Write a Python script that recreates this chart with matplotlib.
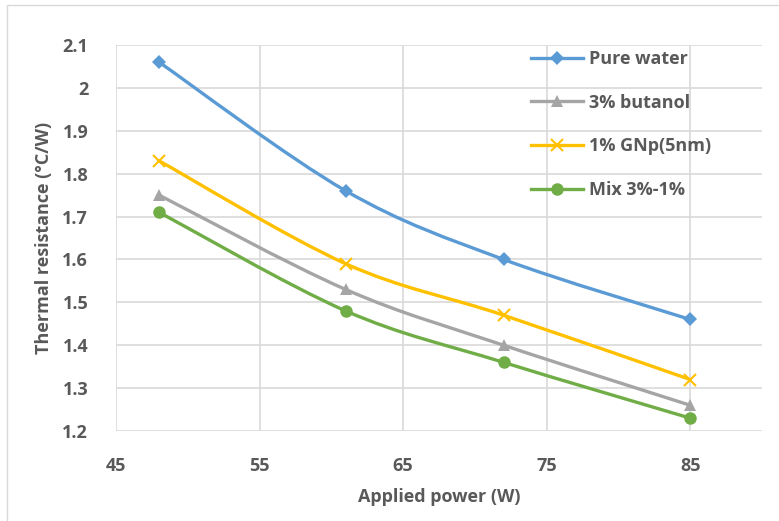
import numpy as np
import matplotlib.pyplot as plt
from matplotlib.path import Path
from matplotlib.patches import PathPatch, Rectangle
from matplotlib.lines import Line2D

power = [48, 61, 72, 85]
pure_water = [2.06, 1.76, 1.60, 1.46]
butanol = [1.75, 1.53, 1.40, 1.26]
gnp = [1.83, 1.59, 1.47, 1.32]
mix = [1.71, 1.48, 1.36, 1.23]

labels = ["Pure water", "3% butanol", "1% GNp(5nm)", "Mix 3%-1%"]
colors = ["#5B9BD5", "#A5A5A5", "#FFC000", "#70AD47"]
markers = ["D", "^", "x", "o"]
msizes = [7, 8, 9, 9]

text_col = "#595959"
grid_col = "#D9D9D9"
plt.rcParams['font.family'] = ['Open Sans', 'DejaVu Sans']
plt.rcParams['font.weight'] = 'bold'


def smooth_path(x, y):
    # Excel-like smoothed line: Catmull-Rom segments as cubic Bezier
    pts = np.column_stack([x, y]).astype(float)
    verts = [pts[0]]
    codes = [Path.MOVETO]
    n = len(pts)
    for i in range(n - 1):
        p0 = pts[i - 1] if i > 0 else pts[i]
        p1 = pts[i]
        p2 = pts[i + 1]
        p3 = pts[i + 2] if i + 2 < n else pts[i + 1]
        c1 = p1 + (p2 - p0) / 6.0
        c2 = p2 - (p3 - p1) / 6.0
        verts += [c1, c2, p2]
        codes += [Path.CURVE4] * 3
    return Path(verts, codes)


fig = plt.figure(figsize=(7.79, 5.21), dpi=100)
ax = fig.add_axes([116 / 779, 1 - 431 / 521, (762 - 116) / 779, (431 - 45) / 521])

series = [pure_water, butanol, gnp, mix]
handles = []
for vals, lab, c, m, ms in zip(series, labels, colors, markers, msizes):
    patch = PathPatch(smooth_path(power, vals), facecolor='none', edgecolor=c,
                      lw=2.4, zorder=3, capstyle='round')
    ax.add_patch(patch)
    mew = 1.5 if m == 'x' else 0
    ax.plot(power, vals, ls='none', marker=m, ms=ms, color=c, mec=c, mew=mew, zorder=4)
    handles.append(Line2D([], [], color=c, lw=2.4, marker=m, ms=ms, mec=c, mew=mew))

ax.set_xlim(45, 90)
ax.set_ylim(1.2, 2.1)
ax.set_xticks([45, 55, 65, 75, 85])
yt = np.round(np.arange(1.2, 2.11, 0.1), 1)
ax.set_yticks(yt)
ax.set_yticklabels([f"{v:g}" for v in yt])
ax.grid(True, color=grid_col, lw=1.2, zorder=0)
for s in ax.spines.values():
    s.set_visible(False)
ax.tick_params(length=0, labelsize=13, colors=text_col)
ax.tick_params(axis='x', pad=19)
ax.tick_params(axis='y', pad=20)

ax.set_xlabel("Applied power (W)", fontsize=13, color=text_col, fontweight='bold', labelpad=9)
ax.set_ylabel("Thermal resistance (°C/W)", fontsize=13, color=text_col, fontweight='bold', labelpad=7)

fig.legend(handles, labels, loc='upper left', bbox_to_anchor=(522 / 779, 1 - 41 / 521),
           frameon=False, fontsize=13, handlelength=2.9, labelspacing=1.42,
           borderpad=0, handletextpad=0.3, labelcolor=text_col)

fig.patches.append(Rectangle((7 / 779, -0.01), 1.0, 1 - 5 / 521 + 0.01, transform=fig.transFigure,
                             fill=False, edgecolor='#D9D9D9', lw=1.0))

fig.savefig("out.png", dpi=100)
